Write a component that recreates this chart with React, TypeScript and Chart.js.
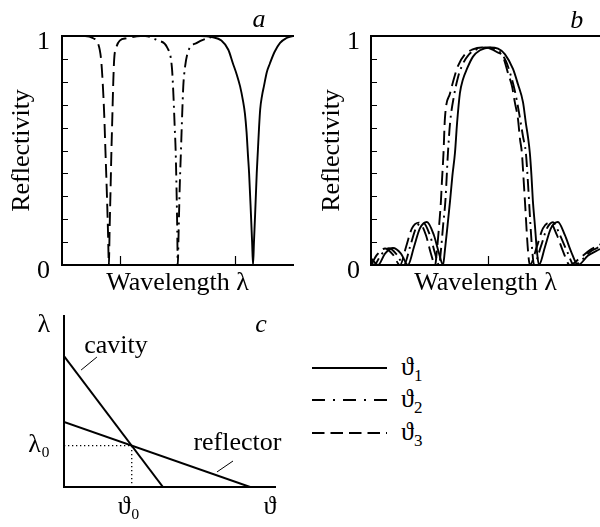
import React, { useEffect, useRef } from 'react';
import { Chart, registerables } from 'chart.js';

Chart.register(...registerables);

const FAMILY = "'Liberation Serif', 'Times New Roman', Times, serif";
const FONT_SIZE = 26;

// ---------- shared text ----------
const Y_TITLE = 'Reflectivity';
const X_TITLE = 'Wavelength λ';
const SERIES_SYMBOL = 'ϑ';
const SERIES_SUB = ['1', '2', '3'];
const Y_TICKS = [0, 0.1, 0.2, 0.3, 0.4, 0.5, 0.6, 0.7, 0.8, 0.9, 1];
const Y_TICK_LABELS = ['0', '', '', '', '', '', '', '', '', '', '1'];

// ---------- panel a ----------
const A_X_TICKS = [25, 75];
const A_X_T1 = [0, 60, 65, 69, 72, 74, 75.7, 77.1, 78.3, 79.2, 79.9, 80.5, 81.0, 81.8, 82.3, 82.7, 83.1, 83.6, 84.3, 84.8, 85.3, 85.8, 86.6, 87.4, 88.6, 90, 92, 94.4, 97, 100];
const A_Y_T1 = [1, 1, 0.995, 0.98, 0.94, 0.88, 0.83, 0.78, 0.72, 0.66, 0.58, 0.48, 0.4, 0.22, 0.1, 0, 0.1, 0.22, 0.4, 0.5, 0.6, 0.68, 0.74, 0.78, 0.84, 0.88, 0.93, 0.97, 0.99, 1];
const A_X_T2 = [0, 36, 41.6, 45.5, 47.6, 48.2, 48.8, 49.2, 49.6, 49.9, 50.1, 50.5, 50.9, 51.5, 52.0, 52.5, 53.2, 54.5, 58.4, 63, 68, 100];
const A_Y_T2 = [1, 1, 0.98, 0.95, 0.86, 0.75, 0.6, 0.5, 0.32, 0.15, 0, 0.15, 0.32, 0.5, 0.65, 0.78, 0.86, 0.93, 0.97, 0.99, 1, 1];
const A_X_T3 = [0, 10, 13.5, 15.5, 16.9, 17.6, 18.3, 18.8, 19.4, 19.9, 20.3, 20.6, 21.0, 21.4, 21.8, 22.2, 22.6, 23.5, 25, 28, 34, 100];
const A_Y_T3 = [1, 1, 0.99, 0.97, 0.9, 0.8, 0.65, 0.5, 0.32, 0.15, 0, 0.15, 0.32, 0.5, 0.65, 0.8, 0.9, 0.95, 0.98, 0.99, 1, 1];

// ---------- panel b ----------
const B_X_MAX = 97.9;
const B_X_TICKS = [50];
const B_X_T1 = [0, 3.0, 6.0, 9.4, 12.8, 15.8, 18.4, 20.9, 23.9, 26.9, 29.1, 30.8, 31.6, 32.7, 33.8, 34.8, 35.9, 36.8, 38.0, 39.3, 41.0, 43.6, 46.6, 50.9, 54.3, 57.3, 60.7, 62.8, 65.0, 66.2, 67.1, 67.9, 68.6, 69.2, 70.1, 70.9, 71.8, 74.4, 76.9, 79.9, 82.9, 85.5, 88.5, 92.7, 97.9];
const B_Y_T1 = [0.03, 0, 0.05, 0.074, 0.05, 0, 0.08, 0.16, 0.188, 0.13, 0.05, 0, 0.065, 0.17, 0.28, 0.39, 0.49, 0.62, 0.75, 0.81, 0.856, 0.91, 0.938, 0.95, 0.945, 0.92, 0.856, 0.79, 0.71, 0.62, 0.56, 0.49, 0.39, 0.28, 0.17, 0.065, 0, 0.08, 0.16, 0.188, 0.13, 0.06, 0, 0.04, 0.07];
const B_X_T2 = [0, 1.3, 4.3, 7.7, 11.1, 14.1, 16.7, 19.2, 22.2, 25.2, 27.4, 29.1, 29.9, 30.8, 31.8, 32.9, 33.8, 35.5, 37.2, 38.9, 41.9, 44.9, 49.1, 52.6, 55.1, 57.7, 59.4, 61.5, 63.2, 65.0, 66.2, 67.1, 67.9, 68.8, 69.7, 72.6, 75.2, 77.8, 80.8, 83.8, 86.8, 91.0, 94.0, 97.9];
const B_Y_T2 = [0.015, 0, 0.045, 0.073, 0.045, 0, 0.08, 0.16, 0.186, 0.13, 0.05, 0, 0.065, 0.17, 0.28, 0.49, 0.62, 0.74, 0.82, 0.87, 0.92, 0.94, 0.95, 0.945, 0.93, 0.89, 0.84, 0.76, 0.67, 0.56, 0.49, 0.36, 0.22, 0.08, 0, 0.08, 0.16, 0.187, 0.13, 0.06, 0, 0.03, 0.06, 0.08];
const B_X_T3 = [0, 2.6, 6.0, 9.4, 12.4, 15.0, 17.5, 20.5, 23.5, 25.6, 27.4, 28.2, 29.1, 29.9, 30.3, 31.0, 31.6, 33.8, 35.9, 37.2, 40.2, 43.2, 47.4, 50.9, 53.8, 56.4, 58.5, 60.3, 61.5, 62.8, 63.7, 64.5, 65.2, 65.8, 67.1, 67.9, 70.9, 73.5, 76.5, 79.5, 82.1, 85.0, 89.3, 93.6, 97.9];
const B_Y_T3 = [0, 0.045, 0.072, 0.045, 0, 0.08, 0.16, 0.185, 0.13, 0.05, 0, 0.065, 0.17, 0.28, 0.36, 0.49, 0.64, 0.75, 0.83, 0.87, 0.92, 0.94, 0.95, 0.945, 0.93, 0.91, 0.84, 0.78, 0.71, 0.64, 0.55, 0.49, 0.38, 0.28, 0.065, 0, 0.08, 0.16, 0.185, 0.13, 0.06, 0, 0.03, 0.065, 0.09];

// ---------- panel c ----------
const C_CAVITY_X = [0, 4.69];
const C_CAVITY_Y = [7.66, 0];
const C_REFLECTOR_X = [0, 8.82];
const C_REFLECTOR_Y = [3.8, 0];
const C_GUIDE_X = [0, 3.21, 3.21];
const C_GUIDE_Y = [2.42, 2.42, 0];
const C_CAVITY_LEADER_X = [0.81, 1.56];
const C_CAVITY_LEADER_Y = [6.84, 7.6];
const C_REFLECTOR_LEADER_X = [7.25, 8.01];
const C_REFLECTOR_LEADER_Y = [0.88, 1.52];
const C_X_TICKS = [3.21, 9.9];
const C_X_LABELS = ['ϑ₀', 'ϑ'];
const C_Y_TICKS = [2.42, 9.47];
const C_Y_LABELS = ['λ₀', 'λ'];

// ---------- annotations ----------
const A_NOTES = [{ text: 'a', x: 85.3, y: 1.039, italic: true }];
const B_NOTES = [{ text: 'b', x: 88.0, y: 1.035, italic: true }];
const C_NOTES = [
  { text: 'c', x: 9.34, y: 9.06, italic: true },
  { text: 'cavity', x: 2.46, y: 7.84, italic: false },
  { text: 'reflector', x: 8.22, y: 2.16, italic: false },
];

const DASHES: number[][] = [[], [13, 5, 2, 5], [14, 6]];
const LEGEND_DASH = ['', '13 8 2 8', '12.5 6'];
const LEGEND_Y = [368, 400, 433];

const pts = (xs: number[], ys: number[]) => xs.map((x, i) => ({ x, y: ys[i] }));
const font = { family: FAMILY, size: FONT_SIZE };

type Note = { text: string; x: number; y: number; italic: boolean };

const textPlugin = (notes: Note[]) => ({
  id: 'notes',
  afterDraw(chart: any) {
    const { ctx } = chart;
    const xs = chart.scales.x;
    const ys = chart.scales.y;
    ctx.save();
    ctx.fillStyle = '#000';
    ctx.textAlign = 'center';
    ctx.textBaseline = 'alphabetic';
    for (const n of notes) {
      ctx.font = `${n.italic ? 'italic ' : ''}${FONT_SIZE}px ${FAMILY}`;
      ctx.fillText(n.text, xs.getPixelForValue(n.x), ys.getPixelForValue(n.y));
    }
    ctx.restore();
  },
});

const inwardTicks = (xLen: number, yLen: number) => ({
  id: 'inwardTicks',
  afterDraw(chart: any) {
    const { ctx, chartArea } = chart;
    const xs = chart.scales.x;
    const ys = chart.scales.y;
    ctx.save();
    ctx.strokeStyle = '#000';
    ctx.lineWidth = 1.2;
    ctx.beginPath();
    xs.ticks.forEach((t: any) => {
      const px = Math.round(xs.getPixelForValue(t.value)) + 0.5;
      ctx.moveTo(px, chartArea.bottom);
      ctx.lineTo(px, chartArea.bottom - xLen);
    });
    ys.ticks.forEach((t: any) => {
      const py = Math.round(ys.getPixelForValue(t.value)) + 0.5;
      ctx.moveTo(chartArea.left, py);
      ctx.lineTo(chartArea.left + yLen, py);
    });
    ctx.stroke();
    ctx.restore();
  },
});

const noPadX = (s: any, h: number) => {
  s.height = h;
  s.paddingLeft = 0;
  s.paddingRight = 0;
};
const noPadY = (s: any, w: number) => {
  s.width = w;
  s.paddingTop = 0;
  s.paddingBottom = 0;
};

function reflectivityConfig(o: {
  series: { x: number[]; y: number[] }[];
  xMax: number;
  xTicks: number[];
  yWidth: number;
  titlePad: number;
  labelPad: number;
  rightPad: number;
  notes: Note[];
}) {
  return {
    type: 'line',
    data: {
      datasets: o.series.map((s, i) => ({
        label: SERIES_SYMBOL + SERIES_SUB[i],
        data: pts(s.x, s.y),
        borderColor: '#000',
        borderWidth: 1.9,
        borderDash: DASHES[i],
        pointRadius: 0,
        fill: false,
        cubicInterpolationMode: 'monotone',
      })),
    },
    options: {
      animation: false,
      responsive: false,
      events: [],
      layout: { padding: { top: 36, right: o.rightPad, left: 0, bottom: 0 } },
      plugins: { legend: { display: false }, tooltip: { enabled: false } },
      scales: {
        x: {
          type: 'linear',
          position: 'bottom',
          min: 0,
          max: o.xMax,
          afterBuildTicks: (s: any) => {
            s.ticks = o.xTicks.map((v) => ({ value: v }));
          },
          afterFit: (s: any) => noPadX(s, 45),
          ticks: { display: false },
          grid: { display: false, drawTicks: false },
          border: { display: true, width: 2, color: '#000' },
          title: {
            display: true,
            text: X_TITLE,
            color: '#000',
            font,
            padding: { top: 0, bottom: 11.4 },
          },
        },
        xTop: {
          type: 'linear',
          position: 'top',
          min: 0,
          max: o.xMax,
          afterFit: (s: any) => noPadX(s, 0),
          ticks: { display: false },
          grid: { display: false, drawTicks: false },
          border: { display: true, width: 2, color: '#000' },
        },
        y: {
          type: 'linear',
          min: 0,
          max: 1,
          afterBuildTicks: (s: any) => {
            s.ticks = Y_TICKS.map((v) => ({ value: v }));
          },
          afterFit: (s: any) => noPadY(s, o.yWidth),
          ticks: {
            autoSkip: false,
            padding: o.labelPad,
            labelOffset: 6,
            color: '#000',
            font,
            callback: (_v: any, i: number) => Y_TICK_LABELS[i],
          },
          grid: { display: false, drawTicks: false },
          border: { display: true, width: 2, color: '#000' },
          title: {
            display: true,
            text: Y_TITLE,
            color: '#000',
            font,
            padding: { top: o.titlePad, bottom: 0 },
          },
        },
      },
    },
    plugins: [inwardTicks(9, 6), textPlugin(o.notes)],
  };
}

function diagramConfig() {
  const line = (x: number[], y: number[], width: number, dash: number[]) => ({
    data: pts(x, y),
    borderColor: '#000',
    borderWidth: width,
    borderDash: dash,
    pointRadius: 0,
    fill: false,
    tension: 0,
  });
  return {
    type: 'line',
    data: {
      datasets: [
        { label: 'cavity', ...line(C_CAVITY_X, C_CAVITY_Y, 2, []) },
        { label: 'reflector', ...line(C_REFLECTOR_X, C_REFLECTOR_Y, 2, []) },
        { label: 'guide', ...line(C_GUIDE_X, C_GUIDE_Y, 1.3, [1.3, 2.7]) },
        { label: 'cavity leader', ...line(C_CAVITY_LEADER_X, C_CAVITY_LEADER_Y, 1, []) },
        { label: 'reflector leader', ...line(C_REFLECTOR_LEADER_X, C_REFLECTOR_LEADER_Y, 1, []) },
      ],
    },
    options: {
      animation: false,
      responsive: false,
      events: [],
      layout: { padding: { top: 6, right: 25, left: 0, bottom: 0 } },
      plugins: { legend: { display: false }, tooltip: { enabled: false } },
      scales: {
        x: {
          type: 'linear',
          min: 0,
          max: 10,
          afterBuildTicks: (s: any) => {
            s.ticks = C_X_TICKS.map((v) => ({ value: v }));
          },
          afterFit: (s: any) => noPadX(s, 40),
          ticks: {
            autoSkip: false,
            maxRotation: 0,
            padding: 5,
            labelOffset: -3,
            color: '#000',
            font,
            callback: (_v: any, i: number) => C_X_LABELS[i],
          },
          grid: { display: false, drawTicks: false },
          border: { display: true, width: 2, color: '#000' },
        },
        y: {
          type: 'linear',
          min: 0,
          max: 10,
          afterBuildTicks: (s: any) => {
            s.ticks = C_Y_TICKS.map((v) => ({ value: v }));
          },
          afterFit: (s: any) => noPadY(s, 64),
          ticks: {
            autoSkip: false,
            padding: 14,
            color: '#000',
            font,
            callback: (_v: any, i: number) => C_Y_LABELS[i],
          },
          grid: { display: false, drawTicks: false },
          border: { display: true, width: 2, color: '#000' },
        },
      },
    },
    plugins: [textPlugin(C_NOTES)],
  };
}

export default function App() {
  const refA = useRef<HTMLCanvasElement>(null);
  const refB = useRef<HTMLCanvasElement>(null);
  const refC = useRef<HTMLCanvasElement>(null);

  useEffect(() => {
    const charts = [
      new Chart(
        refA.current as HTMLCanvasElement,
        reflectivityConfig({
          series: [
            { x: A_X_T1, y: A_Y_T1 },
            { x: A_X_T2, y: A_Y_T2 },
            { x: A_X_T3, y: A_Y_T3 },
          ],
          xMax: 100,
          xTicks: A_X_TICKS,
          yWidth: 62,
          titlePad: 6.4,
          labelPad: 12,
          rightPad: 7,
          notes: A_NOTES,
        }) as any
      ),
      new Chart(
        refB.current as HTMLCanvasElement,
        reflectivityConfig({
          series: [
            { x: B_X_T1, y: B_Y_T1 },
            { x: B_X_T2, y: B_Y_T2 },
            { x: B_X_T3, y: B_Y_T3 },
          ],
          xMax: B_X_MAX,
          xTicks: B_X_TICKS,
          yWidth: 71,
          titlePad: 16.4,
          labelPad: 11,
          rightPad: 0,
          notes: B_NOTES,
        }) as any
      ),
      new Chart(refC.current as HTMLCanvasElement, diagramConfig() as any),
    ];
    return () => charts.forEach((c) => c.destroy());
  }, []);

  const abs = (left: number, top: number, w: number, h: number): React.CSSProperties => ({
    position: 'absolute',
    left,
    top,
    width: w,
    height: h,
  });

  return (
    <div
      style={{
        position: 'fixed',
        left: 0,
        top: 0,
        width: 600,
        height: 527,
        background: '#fff',
        overflow: 'hidden',
      }}
    >
      <canvas ref={refA} width={300} height={310} style={abs(0, 0, 300, 310)} />
      <canvas ref={refB} width={300} height={310} style={abs(300, 0, 300, 310)} />
      <canvas ref={refC} width={300} height={217} style={abs(0, 310, 300, 217)} />
      {SERIES_SUB.map((sub, i) => (
        <React.Fragment key={sub}>
          <svg style={abs(312, LEGEND_Y[i] - 2, 75, 4)} width={75} height={4}>
            <line
              x1={0}
              y1={2}
              x2={75}
              y2={2}
              stroke="#000"
              strokeWidth={2}
              strokeDasharray={LEGEND_DASH[i] || undefined}
            />
          </svg>
          <div
            style={{
              position: 'absolute',
              left: 401,
              top: LEGEND_Y[i] - 14,
              height: 26,
              lineHeight: '26px',
              fontFamily: FAMILY,
              fontSize: FONT_SIZE,
              color: '#000',
              whiteSpace: 'nowrap',
            }}
          >
            {SERIES_SYMBOL}
            <span style={{ fontSize: 17, position: 'relative', top: 6 }}>{sub}</span>
          </div>
        </React.Fragment>
      ))}
    </div>
  );
}
